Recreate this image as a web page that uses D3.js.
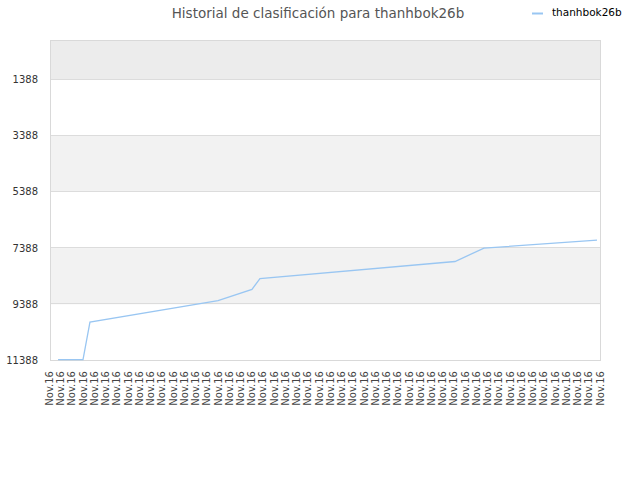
<!DOCTYPE html>
<html><head><meta charset="utf-8">
<script src="https://cdn.jsdelivr.net/npm/d3@7"></script>
<style>body{margin:0;background:#fff}svg{display:block;font-family:"DejaVu Sans",sans-serif}</style>
</head><body><svg id="c" width="640" height="480"></svg>
<script>
// Data
const title = "Historial de clasificación para thanhbok26b";
const seriesName = "thanhbok26b";
const xLabels = Array.from({length: 50}, () => "Nov.16");
const yTicks = [1388, 3388, 5388, 7388, 9388, 11388];
const positions = [0.45, 2.67, 3.29, 14.69, 17.71, 18.42, 35.78, 38.36, 48.42];
const ranks     = [11360, 11360, 10020, 9260, 8860, 8470, 7865, 7390, 7105];

const svg = d3.select("#c");
const L = 50.5, R = 600.5, T = 40.5, B = 360.5;
const y = d3.scaleLinear().domain([0, 11388]).range([T, B]);
const xl = d3.scalePoint().domain(d3.range(xLabels.length)).range([53, 603.5]);
const x = d3.scaleLinear().domain([0, xLabels.length - 1]).range([53, 603.5]);

// bands
const bands = [[0, yTicks[0], "#ececec"], [yTicks[1], yTicks[2], "#f2f2f2"], [yTicks[3], yTicks[4], "#f2f2f2"]];
svg.selectAll("rect.band").data(bands).enter().append("rect")
  .attr("x", L).attr("width", R - L)
  .attr("y", d => y(d[0])).attr("height", d => y(d[1]) - y(d[0]))
  .attr("fill", d => d[2]);

// grid
svg.selectAll("line.grid").data(yTicks).enter().append("line")
  .attr("x1", L).attr("x2", R)
  .attr("y1", d => Math.round(y(d)) - 0.5).attr("y2", d => Math.round(y(d)) - 0.5)
  .attr("stroke", "#dcdcdc");
// frame
svg.append("rect").attr("x", L).attr("y", T).attr("width", R - L).attr("height", B - T)
  .attr("fill", "none").attr("stroke", "#d9d9d9");

// y labels
svg.selectAll("text.yl").data(yTicks).enter().append("text")
  .attr("x", 38).attr("y", d => y(d) + 3.5)
  .attr("text-anchor", "end").attr("font-size", 10).attr("fill", "#333")
  .text(d => d);

// x labels
svg.selectAll("text.xl").data(xLabels).enter().append("text")
  .attr("transform", (d, i) => `translate(${xl(i)},371) rotate(-90)`)
  .attr("text-anchor", "end").attr("font-size", 10).attr("fill", "#444")
  .text(d => d);

// line
const pts = positions.map((p, i) => [p, ranks[i]]);
svg.append("path").datum(pts)
  .attr("d", d3.line().x(d => x(d[0])).y(d => y(d[1])))
  .attr("fill", "none").attr("stroke", "#99c6f2").attr("stroke-width", 1.3);

// title
svg.append("text").attr("x", 318).attr("y", 18).attr("text-anchor", "middle")
  .attr("font-size", 13.5).attr("fill", "#555").text(title);

// legend
svg.append("line").attr("x1", 532).attr("x2", 543).attr("y1", 13.5).attr("y2", 13.5)
  .attr("stroke", "#99c6f2").attr("stroke-width", 2);
svg.append("text").attr("x", 552).attr("y", 16).attr("font-size", 10.5).attr("fill", "#000").text(seriesName);
</script></body></html>
